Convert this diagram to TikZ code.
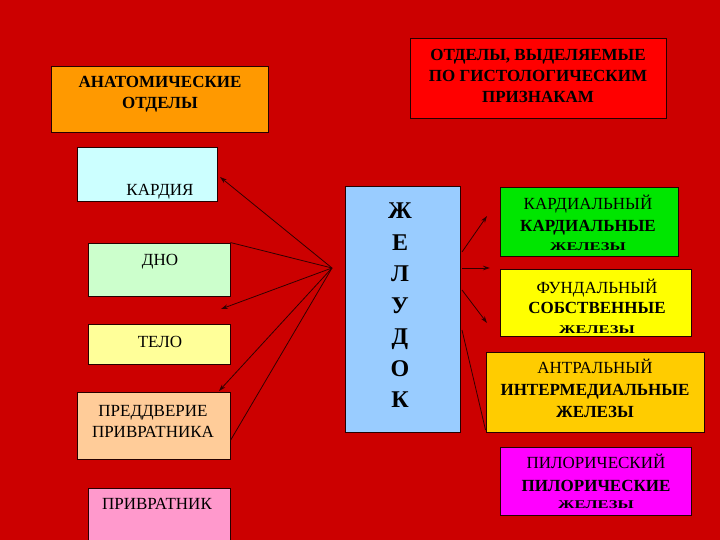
\documentclass[tikz,border=0pt]{standalone}
\usepackage{fontspec}
\setmainfont{Liberation Serif}
\usetikzlibrary{arrows.meta,calc}
\definecolor{bgred}{RGB}{204,0,0}
\definecolor{anatc}{RGB}{255,153,0}
\definecolor{histc}{RGB}{255,0,0}
\definecolor{kardc}{RGB}{204,255,255}
\definecolor{dnoc}{RGB}{204,255,204}
\definecolor{teloc}{RGB}{255,255,153}
\definecolor{preddc}{RGB}{255,204,153}
\definecolor{privc}{RGB}{255,153,204}
\definecolor{zhc}{RGB}{153,204,255}
\definecolor{klc}{RGB}{0,230,0}
\definecolor{fundc}{RGB}{255,255,0}
\definecolor{antrc}{RGB}{255,204,0}
\definecolor{pilc}{RGB}{255,0,255}
\definecolor{linec}{RGB}{50,0,0}
\newcommand{\squash}[1]{\scalebox{1}[0.72]{#1}}
\tikzset{
  box/.style={draw=black!85!red, line width=0.9pt, inner sep=0pt},
  txt/.style={anchor=base, inner sep=0pt, font=\fontsize{17}{20}\selectfont},
  btxt/.style={anchor=base, inner sep=0pt, font=\fontsize{17}{20}\selectfont\bfseries},
  stxt/.style={anchor=base, inner sep=0pt, font=\fontsize{16.5}{15}\selectfont\bfseries},
  conn/.style={draw=linec, line width=0.8pt},
  arr/.style={conn, -{Stealth[length=7pt,width=4.5pt]}}
}
\begin{document}
\begin{tikzpicture}[x=1pt,y=-1pt]
\useasboundingbox (0,0) rectangle (720,540);
\fill[bgred] (0,0) rectangle (720,540);
% boxes
\node[box, fill=anatc, minimum width=217, minimum height=66] (anat) at (159.5,99) {};
\node[box, fill=histc, minimum width=256, minimum height=80] (hist) at (538,78) {};
\node[box, fill=kardc, minimum width=140, minimum height=54] (kard) at (147,174) {};
\node[box, fill=dnoc, minimum width=142, minimum height=53] (dno) at (159,269.5) {};
\node[box, fill=teloc, minimum width=142, minimum height=40] (telo) at (159,344) {};
\node[box, fill=preddc, minimum width=153, minimum height=67] (predd) at (153.5,425.5) {};
\node[box, fill=privc, minimum width=142, minimum height=60] (priv) at (159,518) {};
\node[box, fill=zhc, minimum width=115, minimum height=246] (zh) at (402.5,309) {};
\node[box, fill=klc, minimum width=178, minimum height=69] (kl) at (589,221.5) {};
\node[box, fill=fundc, minimum width=191, minimum height=67] (fund) at (595.5,302.5) {};
\node[box, fill=antrc, minimum width=218, minimum height=80] (antr) at (595,392) {};
\node[box, fill=pilc, minimum width=191, minimum height=68] (pil) at (595.5,481) {};
% texts
\node[btxt] (t1) at (160,88) {АНАТОМИЧЕСКИЕ};
\node[btxt] (t2) at (160,109) {ОТДЕЛЫ};
\node[btxt] (t3) at (538,61) {ОТДЕЛЫ, ВЫДЕЛЯЕМЫЕ};
\node[btxt] (t4) at (538,82) {ПО ГИСТОЛОГИЧЕСКИМ};
\node[btxt] (t5) at (538,103) {ПРИЗНАКАМ};
\node[txt] (t6) at (160,196) {КАРДИЯ};
\node[txt] (t7) at (160,265) {ДНО};
\node[txt] (t8) at (160,347) {ТЕЛО};
\node[txt] (t9) at (153,416) {ПРЕДДВЕРИЕ};
\node[txt] (t10) at (153,437) {ПРИВРАТНИКА};
\node[txt] (t11) at (157,509) {ПРИВРАТНИК};
\node[anchor=north, inner sep=0pt, align=center, font=\fontsize{24}{31.5}\selectfont\bfseries] (zht) at (400,203) {Ж\\Е\\Л\\У\\Д\\О\\К};
\node[txt] (t12) at (588,210) {КАРДИАЛЬНЫЙ};
\node[btxt] (t13) at (588,232) {КАРДИАЛЬНЫЕ};
\node[stxt] (t14) at (588,250) {\squash{ЖЕЛЕЗЫ}};
\node[txt] (t15) at (597,293) {ФУНДАЛЬНЫЙ};
\node[btxt] (t16) at (597,313) {СОБСТВЕННЫЕ};
\node[stxt] (t17) at (597,333) {\squash{ЖЕЛЕЗЫ}};
\node[txt] (t18) at (595,373) {АНТРАЛЬНЫЙ};
\node[btxt] (t19) at (595,395) {ИНТЕРМЕДИАЛЬНЫЕ};
\node[btxt] (t20) at (595,417) {ЖЕЛЕЗЫ};
\node[txt] (t21) at (596,468) {ПИЛОРИЧЕСКИЙ};
\node[btxt] (t22) at (596,491) {ПИЛОРИЧЕСКИЕ};
\node[stxt] (t23) at (596,508) {\squash{ЖЕЛЕЗЫ}};
% connectors
\coordinate (hub) at (332,268);
\coordinate (e1) at (220,177);
\coordinate (e3) at (221,309);
\coordinate (e4) at (219,391);
\coordinate (r1) at (462,252);
\coordinate (r2) at (462,268);
\coordinate (r3) at (462,290);
\coordinate (r4) at (462,330);
\coordinate (f1) at (487,216);
\coordinate (f2) at (490,268);
\coordinate (f3) at (487,323);
\draw[arr] (hub) -- (e1);
\draw[conn] (hub) -- (dno.north east);
\draw[arr] (hub) -- (e3);
\draw[arr] (hub) -- (e4);
\draw[conn] (hub) -- ($(predd.north east)!0.72!(predd.south east)$);
\draw[arr] (r1) -- (f1);
\draw[arr] (r2) -- (f2);
\draw[arr] (r3) -- (f3);
\draw[conn] (r4) -- ($(antr.north west)!0.97!(antr.south west)$);
\end{tikzpicture}
\end{document}
